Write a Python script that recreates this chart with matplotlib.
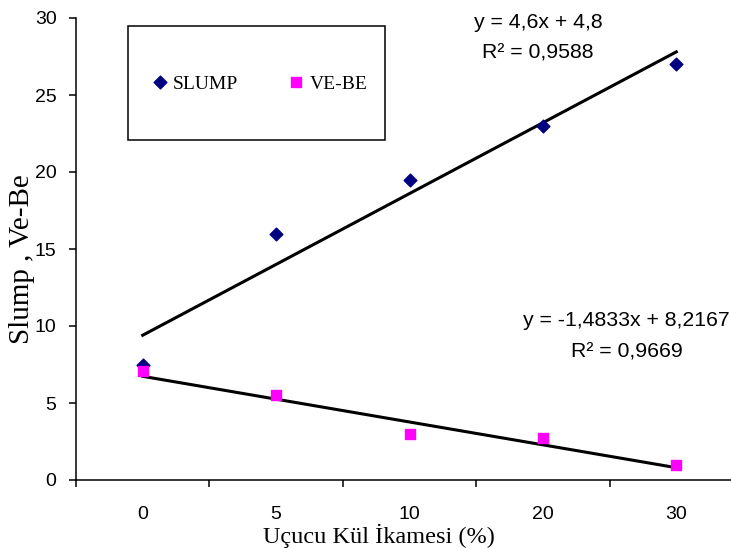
import numpy as np
import matplotlib
matplotlib.use("Agg")
import matplotlib.pyplot as plt
from matplotlib.patches import Rectangle

# Data
categories = ["0", "5", "10", "20", "30"]
slump = [7.5, 16, 19.5, 23, 27]
vebe = [7.1, 5.5, 3.0, 2.7, 1.0]

# trendline coefficients (as printed on the chart)
slump_fit = (4.6, 4.8)
vebe_fit = (-1.4833, 8.2167)
slump_eq = ["y = 4,6x + 4,8", "R² = 0,9588"]
vebe_eq = ["y = -1,4833x + 8,2167", "R² = 0,9669"]

W, H = 731, 548
x = np.arange(1, len(categories) + 1)

fig = plt.figure(figsize=(W / 100, H / 100), dpi=100)
ax = fig.add_axes([76 / W, 68 / H, 667 / W, 462 / H])

ax.scatter(x, slump, marker="D", s=42, color="#000080", label="SLUMP", zorder=3)
ax.scatter(x, vebe, marker="s", s=45, color="#FF00FF", label="VE-BE", zorder=3)

# Linear trendlines
xl = np.array([x[0], x[-1]])
ax.plot(xl, slump_fit[0] * xl + slump_fit[1], color="black", lw=2.2, zorder=2)
ax.plot(xl, vebe_fit[0] * xl + vebe_fit[1], color="black", lw=2.2, zorder=2)

# Axes
ax.set_xlim(0.5, len(categories) + 0.5)
ax.set_ylim(0, 30)
ax.set_yticks(range(0, 31, 5))
ax.set_xticks(x)
ax.set_xticklabels(categories)
ax.set_xticks(np.arange(0.5, len(categories) + 1, 1), minor=True)
ax.tick_params(axis="x", which="major", length=0, pad=19)
ax.tick_params(axis="x", which="minor", length=5, width=1.1, direction="out")
ax.tick_params(axis="y", length=5, width=1.1, direction="out", pad=9)
for lab in ax.get_xticklabels() + ax.get_yticklabels():
    lab.set_fontfamily("Liberation Sans")
    lab.set_fontsize(14)

ax.spines["top"].set_visible(False)
ax.spines["right"].set_visible(False)
ax.spines["left"].set_linewidth(1.1)
ax.spines["bottom"].set_linewidth(1.1)

ax.set_xlabel("Uçucu Kül İkamesi (%)", fontfamily="Liberation Serif", fontsize=17.5, labelpad=0)
ax.set_ylabel("Slump , Ve-Be", fontfamily="Liberation Serif", fontsize=21, labelpad=0)
ax.xaxis.label.set_x(0.454)
ax.yaxis.label.set_y(0.478)

# Trendline labels
eq_font = dict(ha="center", va="center", fontfamily="Liberation Sans", fontsize=15.3)
fig.text(538 / W, 1 - 23 / H, slump_eq[0], **eq_font)
fig.text(538 / W, 1 - 53 / H, slump_eq[1], **eq_font)
fig.text(626 / W, 1 - 320 / H, vebe_eq[0], **eq_font)
fig.text(627 / W, 1 - 352 / H, vebe_eq[1], **eq_font)

# Legend box
fig.add_artist(Rectangle((128 / W, 1 - 140 / H), 257 / W, 114 / H, transform=fig.transFigure,
                         facecolor="white", edgecolor="black", lw=1.1, zorder=4))
leg = fig.legend(loc="center left", bbox_to_anchor=(142 / W, 1 - 84 / H), ncol=2,
                 frameon=False, borderpad=0, handlelength=0.8, handletextpad=0.28,
                 columnspacing=2.6, scatterpoints=1, scatteryoffsets=[0.5],
                 prop={"family": "Liberation Serif", "size": 14})
leg.set_zorder(5)

fig.savefig("out.png", dpi=100)
